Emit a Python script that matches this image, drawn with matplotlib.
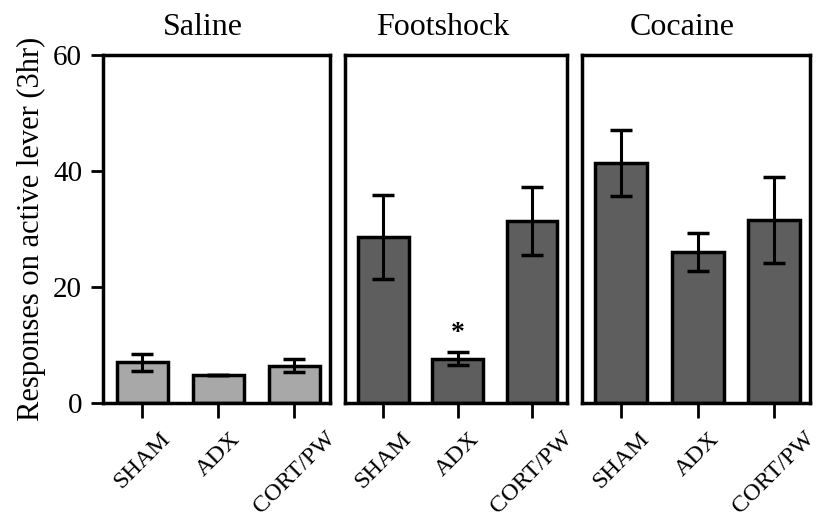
import matplotlib
matplotlib.use("Agg")
import matplotlib.pyplot as plt

plt.rcParams['font.family'] = ['Liberation Serif', 'DejaVu Serif']

groups = ["SHAM", "ADX", "CORT/PW"]
conditions = ["Saline", "Footshock", "Cocaine"]
means = {
    "Saline": [7.0, 4.8, 6.4],
    "Footshock": [28.6, 7.6, 31.4],
    "Cocaine": [41.4, 26.0, 31.6],
}
sems = {
    "Saline": [1.5, 0.0, 1.1],
    "Footshock": [7.3, 1.1, 5.9],
    "Cocaine": [5.7, 3.3, 7.4],
}
star_group = ("Footshock", 1, 12.0)

fig = plt.figure(figsize=(8.17, 5.22), dpi=100)
lefts = [0.126, 0.422, 0.712]
widths = [0.278, 0.272, 0.279]
fills = ["#a8a8a8", "#5e5e5e", "#5e5e5e"]

axes = []
for i, cond in enumerate(conditions):
    ax = fig.add_axes([lefts[i], 0.228, widths[i], 0.667])
    axes.append(ax)
    x = range(len(groups))
    ax.bar(x, means[cond], width=0.68, color=fills[i], edgecolor="black",
           linewidth=2.5, zorder=2)
    ax.errorbar(x, means[cond], yerr=sems[cond], fmt="none", ecolor="black",
                elinewidth=2.2, capsize=8, capthick=2.5, zorder=3)
    ax.set_xlim(-0.52, 2.47)
    ax.set_ylim(0, 60)
    ax.set_xticks(list(x))
    ax.set_xticklabels(groups, rotation=45, ha="center", va="top",
                       fontsize=17.5)
    ax.set_title(cond, fontsize=23, pad=14, x=0.44)
    for s in ax.spines.values():
        s.set_linewidth(2.5)
    ax.tick_params(axis="x", length=11, width=2, pad=7)
    if i == 0:
        ax.set_yticks([0, 20, 40, 60])
        ax.tick_params(axis="y", labelsize=21, length=9, width=2, pad=6)
        ax.set_ylabel("Responses on active lever (3hr)", fontsize=22,
                      labelpad=5)
    else:
        ax.set_yticks([])

cond, idx, ystar = star_group
axes[conditions.index(cond)].text(idx, ystar, "*", ha="center", va="center",
                                  fontsize=20, fontweight="bold")

fig.savefig("out.png", dpi=100)
